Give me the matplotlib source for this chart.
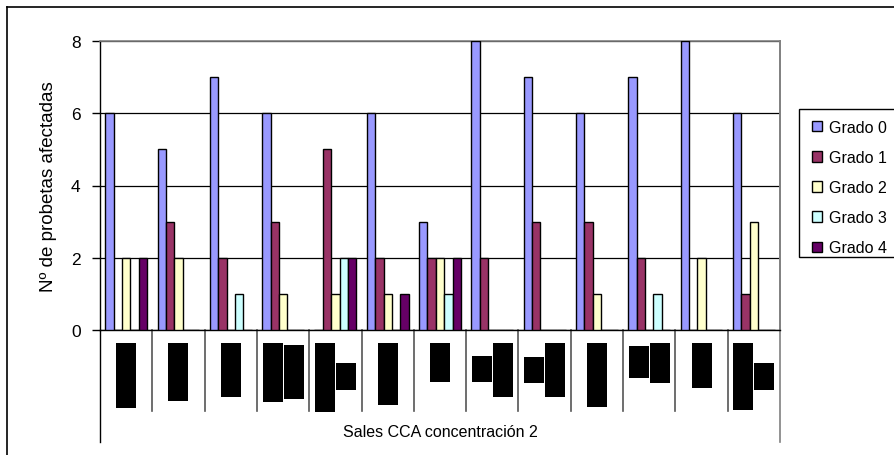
import numpy as np
import matplotlib
matplotlib.use("Agg")
import matplotlib.pyplot as plt
from matplotlib.patches import Rectangle, Patch
from matplotlib.lines import Line2D
import matplotlib.transforms as mtransforms

plt.rcParams['font.family'] = ['Liberation Sans', 'DejaVu Sans']

# data
series = ["Grado 0", "Grado 1", "Grado 2", "Grado 3", "Grado 4"]
grado0 = [6, 5, 7, 6, 0, 6, 3, 8, 7, 6, 7, 8, 6]
grado1 = [0, 3, 2, 3, 5, 2, 2, 2, 3, 3, 2, 0, 1]
grado2 = [2, 2, 0, 1, 1, 1, 2, 0, 0, 1, 0, 2, 3]
grado3 = [0, 0, 1, 0, 2, 0, 1, 0, 0, 0, 1, 0, 0]
grado4 = [2, 0, 0, 0, 2, 1, 2, 0, 0, 0, 0, 0, 0]
group_label = "Sales CCA concentración 2"
y_ticks = [0, 2, 4, 6, 8]

colors = ["#9999FF", "#993366", "#FFFFCC", "#CCFFFF", "#660066"]

# redacted category labels (black blocks), pixel spans (top, bottom) per column
label_blocks = [
    [(344, 409)], [(344, 402)], [(344, 398)], [(344, 403), (346, 400)],
    [(344, 413), (364, 391)], [(344, 406)], [(344, 383)],
    [(357, 383), (344, 398)], [(358, 384), (344, 398)], [(344, 408)],
    [(347, 379), (344, 384)], [(344, 389)], [(344, 411), (364, 391)],
]

W, H = 894, 456
fig = plt.figure(figsize=(W / 100, H / 100), dpi=100)

# outer chart border (only top/left visible)
fig.add_artist(Line2D([7 / W, 7 / W], [0, 1 - 8 / H], color="black", lw=1.2))
fig.add_artist(Line2D([7 / W, 1], [1 - 8 / H, 1 - 8 / H], color="black", lw=1.2))

left, right, top, bottom = 100, 780, 42, 331
ax = fig.add_axes([left / W, 1 - bottom / H, (right - left) / W, (bottom - top) / H])

data = [grado0, grado1, grado2, grado3, grado4]
n = len(grado0)
x = np.arange(n)
bw = 0.16
for k, vals in enumerate(data):
    ax.bar(x + 0.1 + k * bw, vals, width=bw, align="edge", color=colors[k],
           edgecolor="black", linewidth=1.0, label=series[k], zorder=3)

ax.set_xlim(0, n)
ax.set_ylim(0, 8)
ax.set_yticks(y_ticks)
ax.set_yticklabels([str(v) for v in y_ticks], fontsize=12.5)
ax.tick_params(axis="y", length=6, width=1, pad=8)
ax.set_xticks([])
ax.yaxis.grid(True, color="black", lw=0.9, zorder=0)
ax.set_axisbelow(True)
for s in ["top", "right"]:
    ax.spines[s].set_color("#808080")
    ax.spines[s].set_linewidth(1.2)
ax.spines["left"].set_linewidth(1.0)
ax.spines["bottom"].set_linewidth(1.0)
ax.set_ylabel("Nº de probetas afectadas", fontsize=13.5, labelpad=10)

# category axis area
ph = bottom - top
trans = mtransforms.blended_transform_factory(ax.transData, ax.transAxes)
div_bot = -(412 - bottom) / ph
outer_bot = -(443 - bottom) / ph
for i in range(1, n):
    ax.plot([i, i], [0, div_bot], transform=trans, color="#555555", lw=1.2, clip_on=False)
ax.plot([0, 0], [0, outer_bot], transform=trans, color="black", lw=1.0, clip_on=False)
ax.plot([n, n], [1, outer_bot], transform=trans, color="#808080", lw=1.2, clip_on=False)

cell_px = (right - left) / n
bw_px = 20
for i, blocks in enumerate(label_blocks):
    m = len(blocks)
    total = m * bw_px + (m - 1) * 1
    x0 = i + 0.5 - (total / 2) / cell_px
    for j, (t, b) in enumerate(blocks):
        xl = x0 + j * (bw_px + 1) / cell_px
        ax.add_patch(Rectangle((xl, -(b - bottom) / ph), bw_px / cell_px, (b - t) / ph,
                               transform=trans, facecolor="black", edgecolor="none",
                               clip_on=False))

ax.text(n / 2, -(433 - bottom) / ph, group_label, transform=trans, ha="center",
        va="center", fontsize=11.5)

# legend
fig.add_artist(Rectangle((799 / W, 1 - 258 / H), 120 / W, 148 / H, transform=fig.transFigure,
                         facecolor="white", edgecolor="black", lw=1.0))
handles = [Patch(facecolor=c, edgecolor="black", lw=1.0) for c in colors]
fig.legend(handles, series, loc="upper left", bbox_to_anchor=(799 / W, 1 - 108 / H),
           frameon=False, fontsize=11.5, handlelength=0.65, handleheight=0.65,
           handletextpad=0.4, labelspacing=0.95, borderpad=0.3)

fig.savefig("out.png", dpi=100)
